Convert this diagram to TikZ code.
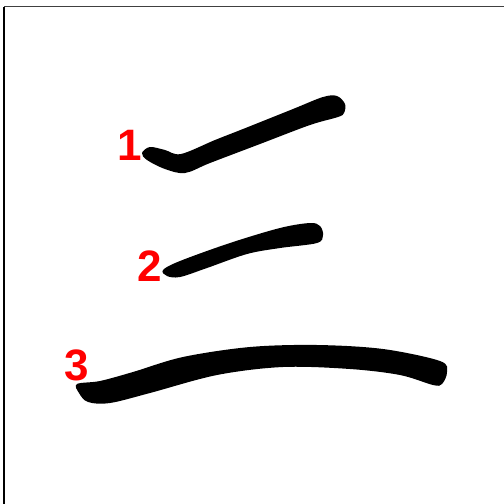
\documentclass[tikz,border=0pt]{standalone}
\usepackage{fontspec}
\setmainfont{Liberation Sans}
\usepackage{tikz}

\tikzset{
  brush/.style={fill=black},
  numlabel/.style={text=red,inner sep=0pt,font=\bfseries\fontsize{44}{44}\selectfont}
}

\begin{document}
\begin{tikzpicture}[x=1pt,y=-1pt]
\useasboundingbox (0,0) rectangle (504,504);
\fill[white] (0,0) rectangle (504,504);
\draw[line width=2.4pt] (4,6.5) -- (4,504);
\draw[line width=1.4pt,black!75] (4,6.5) -- (504,6.5);
\fill[brush] plot[smooth cycle,tension=0.55] coordinates {(142,153) (150,147) (165,150) (181,154) (215,140) (243,129) (293,109) (323,97) (337,96) (345,104) (344,113) (338,117) (310,125) (260,144) (210,163) (185,173) (165,169) (147,160)};
\fill[brush] plot[smooth cycle,tension=0.55] coordinates {(163,270) (180,261) (230,243) (280,228) (310,223) (320,226) (323,235) (317,243) (280,248) (247,254) (207,268) (180,277) (167,276)};
\fill[brush] plot[smooth cycle,tension=0.55] coordinates {(77,384) (100,381) (133,372) (183,357) (250,347) (317,345) (383,349) (440,361) (447,372) (442,384) (433,385) (400,375) (350,369) (283,367) (217,375) (150,393) (110,403) (88,402) (79,393)};
\node[numlabel] (n1) at (130,145) {1};
\node[numlabel] (n2) at (150,266) {2};
\node[numlabel] (n3) at (77,365) {3};
\end{tikzpicture}
\end{document}
